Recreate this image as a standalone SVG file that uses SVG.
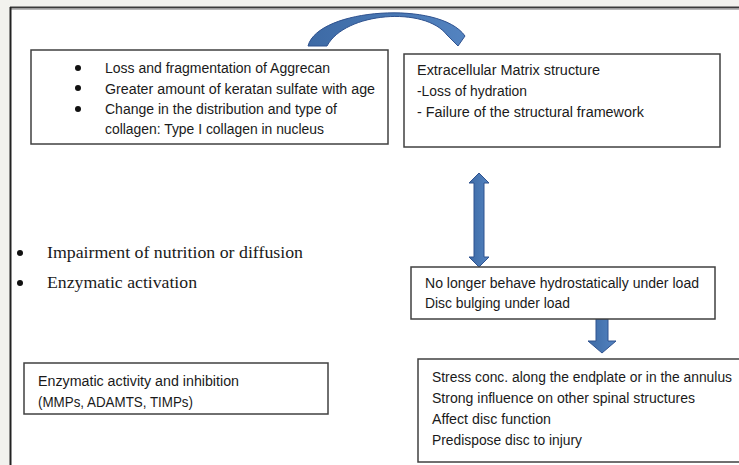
<svg xmlns="http://www.w3.org/2000/svg" width="739" height="465" viewBox="0 0 739 465">
<defs>
<style>
.box{fill:#ffffff;stroke:#404040;stroke-width:1.5}
.t{font-family:"Liberation Sans",Arial,sans-serif;font-size:14px;fill:#1a1a1a}
.s{font-family:"Liberation Serif","Times New Roman",serif;font-size:16px;fill:#1a1a1a}
.arr{fill:url(#blue);stroke:#2f528f;stroke-width:1}
.dot{fill:#111}
</style>
<linearGradient id="blue" x1="0" y1="0" x2="1" y2="0">
<stop offset="0" stop-color="#3d6aa5"/>
<stop offset="1" stop-color="#5383c0"/>
</linearGradient>
</defs>
<rect x="0" y="0" width="739" height="465" fill="#f2f2ee"/>
<rect x="10" y="7" width="729" height="458" fill="#ffffff"/>
<line x1="10" y1="7.5" x2="739" y2="7.5" stroke="#3a3a3a" stroke-width="2"/>
<line x1="10" y1="9.5" x2="739" y2="9.5" stroke="#b8b8b8" stroke-width="1"/>
<line x1="10.5" y1="7" x2="10.5" y2="465" stroke="#222" stroke-width="2"/>

<g id="connectors">
<path class="arr" d="M308,46 C318,8 440,0 465,36 L458,46 L447,35 C425,6 345,12 327,46 Z"/>
<path class="arr" d="M479,173 L489,183 L484,183 L484,257 L489,257 L479,267 L469,257 L474,257 L474,183 L469,183 Z"/>
<path class="arr" d="M596,319 L608,319 L608,341 L616,341 L602,353 L588,341 L596,341 Z"/>
</g>

<g id="node-aggrecan">
<rect class="box" x="31" y="50" width="357" height="94"/>
<circle class="dot" cx="78" cy="68" r="3"/>
<circle class="dot" cx="78" cy="88" r="3"/>
<circle class="dot" cx="78" cy="109" r="3"/>
<text class="t" x="105" y="73" textLength="225" lengthAdjust="spacingAndGlyphs">Loss and fragmentation of Aggrecan</text>
<text class="t" x="105" y="94" textLength="270" lengthAdjust="spacingAndGlyphs">Greater amount of keratan sulfate with age</text>
<text class="t" x="105" y="114" textLength="232" lengthAdjust="spacingAndGlyphs">Change in the distribution and type of</text>
<text class="t" x="105" y="134" textLength="219" lengthAdjust="spacingAndGlyphs">collagen: Type I collagen in nucleus</text>
</g>

<g id="node-ecm">
<rect class="box" x="404" y="54" width="316" height="93"/>
<text class="t" x="417" y="75" textLength="183" lengthAdjust="spacingAndGlyphs">Extracellular Matrix structure</text>
<text class="t" x="417" y="96" textLength="110" lengthAdjust="spacingAndGlyphs">-Loss of hydration</text>
<text class="t" x="417" y="117" textLength="227" lengthAdjust="spacingAndGlyphs">- Failure of the structural framework</text>
</g>

<g id="node-factors">
<circle class="dot" cx="20" cy="253" r="3"/>
<circle class="dot" cx="20" cy="283" r="3"/>
<text class="s" x="47" y="258" textLength="256" lengthAdjust="spacingAndGlyphs">Impairment of nutrition or diffusion</text>
<text class="s" x="47" y="288" textLength="150" lengthAdjust="spacingAndGlyphs">Enzymatic activation</text>
</g>

<g id="node-hydrostatic">
<rect class="box" x="411" y="267" width="304" height="52"/>
<text class="t" x="425" y="288" textLength="274" lengthAdjust="spacingAndGlyphs">No longer behave hydrostatically under load</text>
<text class="t" x="425" y="308" textLength="145" lengthAdjust="spacingAndGlyphs">Disc bulging under load</text>
</g>

<g id="node-enzymatic">
<rect class="box" x="24" y="363" width="304" height="51"/>
<text class="t" x="38" y="386" textLength="201" lengthAdjust="spacingAndGlyphs">Enzymatic activity and inhibition</text>
<text class="t" x="38" y="407" textLength="155" lengthAdjust="spacingAndGlyphs">(MMPs, ADAMTS, TIMPs)</text>
</g>

<g id="node-stress">
<rect class="box" x="418" y="359" width="330" height="103"/>
<text class="t" x="432" y="382" textLength="300" lengthAdjust="spacingAndGlyphs">Stress conc. along the endplate or in the annulus</text>
<text class="t" x="432" y="403" textLength="263" lengthAdjust="spacingAndGlyphs">Strong influence on other spinal structures</text>
<text class="t" x="432" y="424" textLength="119" lengthAdjust="spacingAndGlyphs">Affect disc function</text>
<text class="t" x="432" y="445" textLength="150" lengthAdjust="spacingAndGlyphs">Predispose disc to injury</text>
</g>
</svg>
